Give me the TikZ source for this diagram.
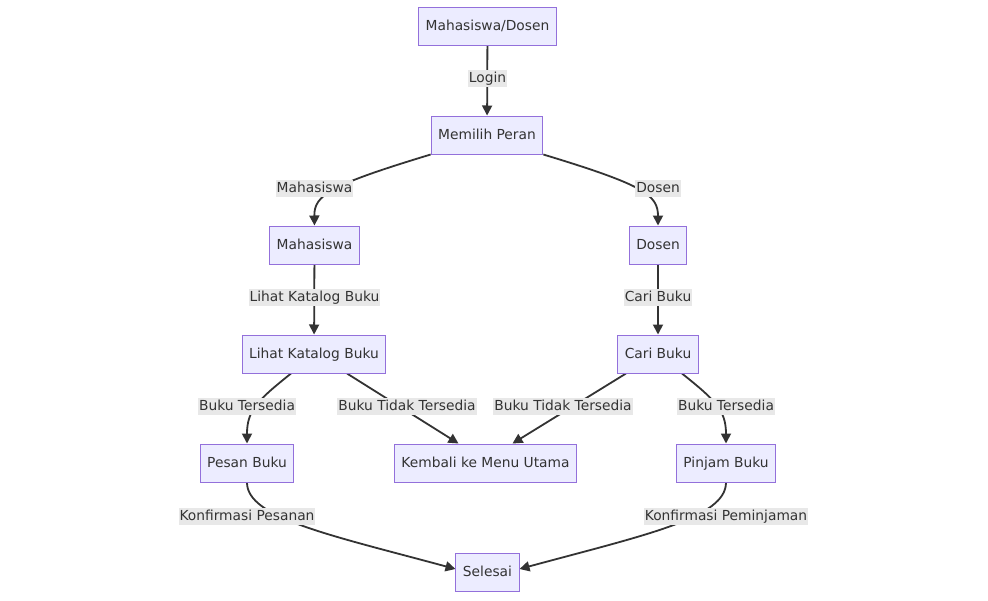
\documentclass[tikz,border=0pt]{standalone}
\usepackage{fontspec}
\setmainfont{DejaVu Sans}
\usetikzlibrary{arrows.meta,backgrounds,calc}
\definecolor{nodefill}{HTML}{ECECFF}
\definecolor{nodeborder}{HTML}{9370DB}
\definecolor{edgecol}{HTML}{333333}
\definecolor{lblbg}{HTML}{E8E8E8}
\tikzset{
  box/.style={draw=nodeborder, fill=nodefill, line width=1pt, minimum height=38pt, inner xsep=7pt, text height=10pt, text depth=1pt, text=edgecol, font=\fontsize{13.8}{16}\selectfont},
  lbl/.style={fill=lblbg, inner xsep=1pt, inner ysep=3pt, text height=10pt, text depth=1pt, text=edgecol, font=\fontsize{13.8}{16}\selectfont},
  edge/.style={draw=edgecol, line width=1.8pt, -{Triangle[length=10pt,width=10pt]}},
}
\begin{document}
\begin{tikzpicture}[x=1pt,y=-1pt]
\useasboundingbox (0,0) rectangle (988,600);
\node[box] (md) at (487.5,26) {Mahasiswa/Dosen};
\node[box] (mp) at (487,135) {Memilih Peran};
\node[box] (mah) at (314.5,245) {Mahasiswa};
\node[box] (dos) at (658,245) {Dosen};
\node[box] (lkb) at (314,354) {Lihat Katalog Buku};
\node[box] (cb) at (658,354) {Cari Buku};
\node[box] (pb) at (247,463) {Pesan Buku};
\node[box] (km) at (485.5,463) {Kembali ke Menu Utama};
\node[box] (pj) at (726,463) {Pinjam Buku};
\node[box] (sel) at (487.5,572) {Selesai};
\begin{scope}[on background layer]
\draw[edge] (md) -- (mp);
\draw[edge] (mp.south west) .. controls (330,185) and (314,195) .. (mah.north);
\draw[edge] (mp.south east) .. controls (644,185) and (658,195) .. (dos.north);
\draw[edge] (mah) -- (lkb);
\draw[edge] (dos) -- (cb);
\draw[edge] ($(lkb.south)+(-23,0)$) .. controls (258,400) and (247,410) .. (pb.north);
\draw[edge] ($(lkb.south)+(33,0)$) -- ($(km.north)+(-27,0)$);
\draw[edge] ($(cb.south)+(-32,0)$) -- ($(km.north)+(27,0)$);
\draw[edge] ($(cb.south)+(24,0)$) .. controls (715,400) and (726,410) .. (pj.north);
\draw[edge] (pb.south) .. controls (247,518) and (330,535) .. ($(sel.west)+(0,-3)$);
\draw[edge] (pj.south) .. controls (726,518) and (645,535) .. ($(sel.east)+(0,-3)$);
\end{scope}
\node[lbl] (l1) at (487.5,78) {Login};
\node[lbl] (l2) at (314.5,188) {Mahasiswa};
\node[lbl] (l3) at (658,188) {Dosen};
\node[lbl] (l4) at (314.5,297) {Lihat Katalog Buku};
\node[lbl] (l5) at (658,297) {Cari Buku};
\node[lbl] (l6) at (247,406) {Buku Tersedia};
\node[lbl] (l7) at (407,406) {Buku Tidak Tersedia};
\node[lbl] (l8) at (563,406) {Buku Tidak Tersedia};
\node[lbl] (l9) at (726,406) {Buku Tersedia};
\node[lbl] (l10) at (247,516) {Konfirmasi Pesanan};
\node[lbl] (l11) at (726,516) {Konfirmasi Peminjaman};
\end{tikzpicture}
\end{document}
